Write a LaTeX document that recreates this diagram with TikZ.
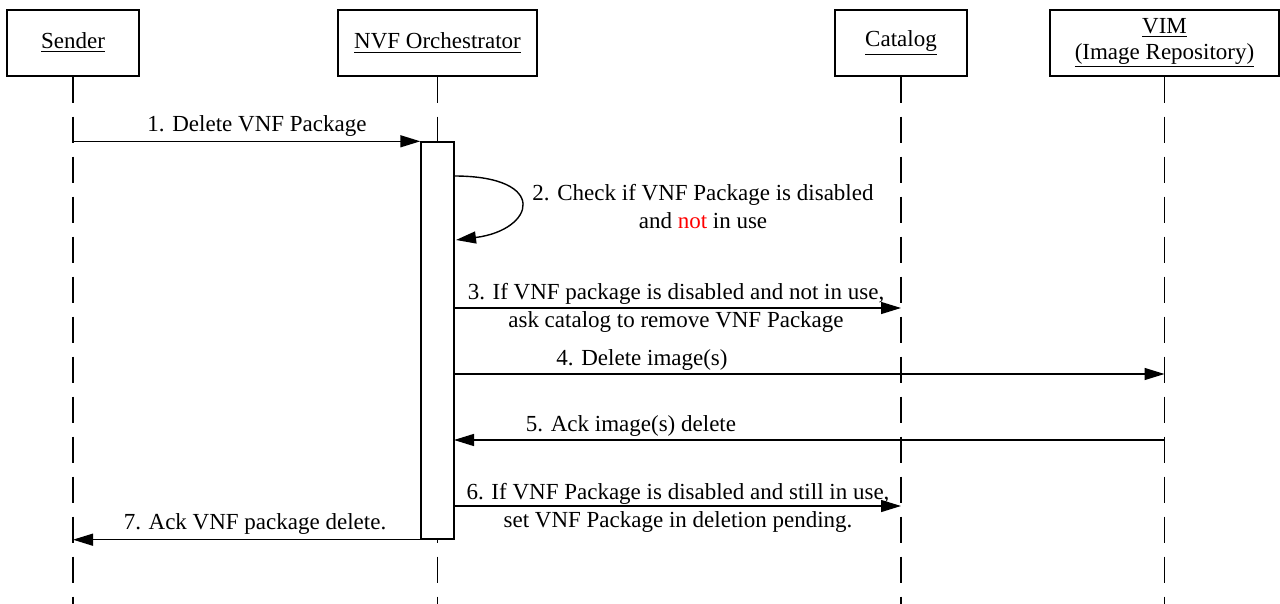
\documentclass[tikz,border=0pt]{standalone}
\usepackage{fontspec}
\setmainfont{Liberation Serif}
\usetikzlibrary{arrows.meta,positioning}

\begin{document}
\begin{tikzpicture}[x=0.5pt, y=-0.5pt, line width=0.7pt,
    every node/.style = {font=\fontsize{11.5}{14}\selectfont},
    head/.style  = {draw, minimum height=33pt, inner sep=0pt, align=center},
    life/.style  = {dash pattern=on 13pt off 7pt},
    msg/.style   = {-{Triangle[length=10pt,width=6pt]}},
    lbl/.style   = {inner sep=0pt, align=center, anchor=base}]
    \useasboundingbox (0,0) rectangle (1280,604);

    % lifeline heads
    \node[head, minimum width=66pt]    (sender)  at (73,43)     {\raisebox{-1pt}{\underline{Sender}}};
    \node[head, minimum width=99.5pt]  (nfvo)    at (437.5,43)  {\raisebox{-1pt}{\underline{NVF Orchestrator}}};
    \node[head, minimum width=66pt]    (catalog) at (901,43)    {\raisebox{-1pt}{\underline{Catalog}}};
    \node[head, minimum width=114.5pt] (vim)     at (1164.5,43) {\underline{VIM}\\[-1pt]\underline{(Image Repository)}};

    \coordinate (bottom) at (0,604);
    \foreach \n in {sender,nfvo,catalog,vim}
      \draw[life] (\n.south) -- (\n |- bottom);

    % activation of the orchestrator
    \node[draw, fill=white, minimum width=16.5pt, minimum height=198.5pt, inner sep=0pt] (act) at (437.5,340.5) {};

    \coordinate (s2) at (454,176);
    \coordinate (e2) at (456,240);
    \coordinate (m3) at (454,308);
    \coordinate (m4) at (454,374);
    \coordinate (m5) at (454,440);
    \coordinate (m6) at (454,506);

    \draw[msg] (sender |- act.north) -- (act.north west);
    \draw[msg] (s2) .. controls (550,176) and (535,230) .. (e2);
    \draw[msg] (m3) -- (catalog |- m3);
    \draw[msg] (m4) -- (vim |- m4);
    \draw[msg] (vim |- m5) -- (m5);
    \draw[msg] (m6) -- (catalog |- m6);
    \draw[msg] (act.south west) -- (sender |- act.south);

    % message texts (base = last line)
    \node[lbl] (l1) at (257,132) {1. Delete VNF Package};
    \node[lbl] (l2) at (703,229) {2. Check if VNF Package is disabled\\and \textcolor{red}{not} in use};
    \node[lbl] (l3) at (676,328) {3. If VNF package is disabled and not in use,\\ask catalog to remove VNF Package};
    \node[lbl] (l4) at (642,365) {4. Delete image(s)};
    \node[lbl] (l5) at (631,431) {5. Ack image(s) delete};
    \node[lbl] (l6) at (678,527) {6. If VNF Package is disabled and still in use,\\set VNF Package in deletion pending.};
    \node[lbl] (l7) at (255,529) {7. Ack VNF package delete.};
\end{tikzpicture}
\end{document}
